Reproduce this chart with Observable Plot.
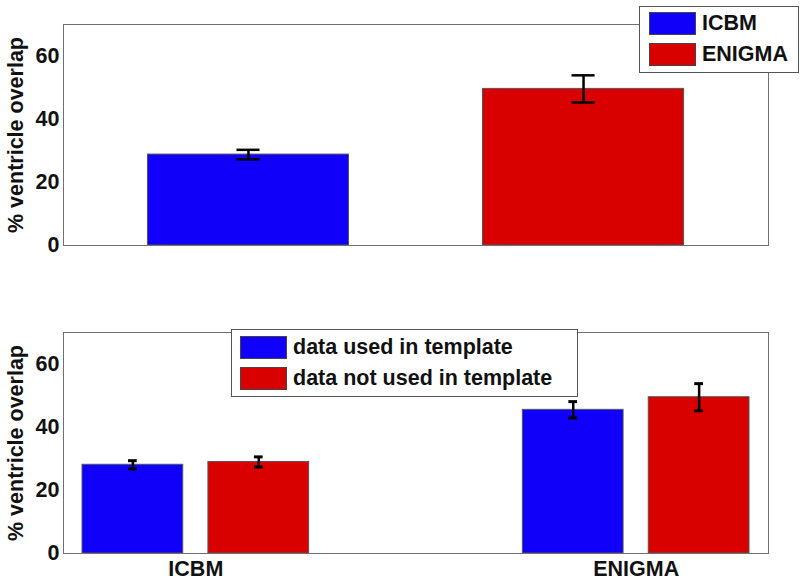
<!DOCTYPE html>
<html>
<head>
<meta charset="utf-8">
<script src="https://cdn.jsdelivr.net/npm/d3@7"></script>
<script src="https://cdn.jsdelivr.net/npm/@observablehq/plot@0.6"></script>
<style>
  html, body { margin: 0; padding: 0; background: #fff; }
  #wrap { position: relative; width: 800px; height: 581px; overflow: hidden; font-family: "Liberation Sans", Arial, sans-serif; font-weight: bold; color: #111; }
  #wrap svg { position: absolute; left: 0; }
  .legend { position: absolute; background: #fff; border: 1px solid #555; box-sizing: border-box; }
  .legend .row { display: flex; align-items: center; height: 23px; margin-bottom: 8px; }
  .legend .sw { width: 47px; height: 23px; box-sizing: border-box; border: 1px solid #444; margin-right: 6px; flex: none; }
  .legend .lab { font-size: 21.5px; white-space: nowrap; }
</style>
</head>
<body>
<div id="wrap"></div>
<script>
// ---- data ----
const topGroups = ["ICBM", "ENIGMA"];
const topMeans = [28.8, 49.6];
const topErr = [1.5, 4.3];

const bottomGroups = ["ICBM", "ENIGMA"];
const bottomSeries = ["data used in template", "data not used in template"];
const usedMeans = [28.1, 45.5];
const usedErr = [1.3, 2.6];
const notUsedMeans = [29.0, 49.5];
const notUsedErr = [1.6, 4.3];

const yTicks = [0, 20, 40, 60];
const yLabel = "% ventricle overlap";
const colors = ["#1000fa", "#d90000"];

// ---- tables ----
const topData = topGroups.map((g, i) => ({group: g, mean: topMeans[i], err: topErr[i]}));
const bottomData = bottomGroups.flatMap((g, i) => [
  {group: g, series: bottomSeries[0], mean: usedMeans[i], err: usedErr[i]},
  {group: g, series: bottomSeries[1], mean: notUsedMeans[i], err: notUsedErr[i]}
]);
const lo = d => d.mean - d.err;
const hi = d => d.mean + d.err;

const font = {fontFamily: "Liberation Sans, Arial, sans-serif", fontWeight: "bold", fontSize: "21.5px", color: "#111", background: "transparent", overflow: "visible"};
const frameColor = "#707070";

const wrap = document.getElementById("wrap");

// ---- top panel ----
const topChart = Plot.plot({
  width: 800, height: 260,
  marginTop: 24, marginBottom: 15, marginLeft: 63, marginRight: 32,
  style: font,
  x: {domain: topGroups, paddingInner: 0.4, paddingOuter: 0.252, round: false, axis: null},
  y: {domain: [0, 70], axis: null},
  color: {domain: topGroups, range: colors},
  marks: [
    Plot.barY(topData, {x: "group", y: "mean", fill: "group", stroke: "#555", strokeWidth: 1}),
    Plot.ruleX(topData, {x: "group", y1: lo, y2: hi, stroke: "#000", strokeWidth: 2.5}),
    Plot.tickY(topData, {x: "group", y: lo, insetLeft: 89, insetRight: 89, stroke: "#000", strokeWidth: 2.5}),
    Plot.tickY(topData, {x: "group", y: hi, insetLeft: 89, insetRight: 89, stroke: "#000", strokeWidth: 2.5}),
    Plot.axisY({ticks: yTicks, tickSize: 0, tickPadding: 4, label: yLabel, labelAnchor: "center", labelArrow: false, labelOffset: 56}),
    Plot.frame({stroke: frameColor})
  ]
});
topChart.style.top = "0px";
wrap.appendChild(topChart);

// ---- bottom panel ----
const bottomChart = Plot.plot({
  width: 800, height: 281,
  marginTop: 32, marginBottom: 28, marginLeft: 63, marginRight: 32,
  style: font,
  fx: {domain: bottomGroups, paddingInner: 0.399, paddingOuter: 0, round: false, label: null, axis: null},
  x: {domain: bottomSeries, paddingInner: 0.2, paddingOuter: 0.151, round: false, axis: null},
  y: {domain: [0, 70], axis: null},
  color: {domain: bottomSeries, range: colors},
  marks: [
    Plot.barY(bottomData, {fx: "group", x: "series", y: "mean", fill: "series", stroke: "#555", strokeWidth: 1}),
    Plot.ruleX(bottomData, {fx: "group", x: "series", y1: lo, y2: hi, stroke: "#000", strokeWidth: 2.5}),
    Plot.tickY(bottomData, {fx: "group", x: "series", y: lo, insetLeft: 46, insetRight: 46, stroke: "#000", strokeWidth: 3}),
    Plot.tickY(bottomData, {fx: "group", x: "series", y: hi, insetLeft: 46, insetRight: 46, stroke: "#000", strokeWidth: 3}),
    Plot.axisFx({anchor: "bottom", tickSize: 0, tickPadding: 7, label: null}),
    Plot.axisY({ticks: yTicks, tickSize: 0, tickPadding: 4, label: yLabel, labelAnchor: "center", labelArrow: false, labelOffset: 56}),
    Plot.frame({stroke: frameColor, facet: "super"})
  ]
});
bottomChart.style.top = "300px";
wrap.appendChild(bottomChart);

// ---- legends ----
function legend(labels, box, pad) {
  const div = document.createElement("div");
  div.className = "legend";
  Object.assign(div.style, {left: box.left + "px", top: box.top + "px", width: box.width + "px", height: box.height + "px", padding: pad});
  labels.forEach((l, i) => {
    const row = document.createElement("div");
    row.className = "row";
    const sw = document.createElement("div");
    sw.className = "sw";
    sw.style.background = colors[i];
    const t = document.createElement("span");
    t.className = "lab";
    t.textContent = l;
    row.appendChild(sw);
    row.appendChild(t);
    div.appendChild(row);
  });
  wrap.appendChild(div);
}
legend(topGroups, {left: 639, top: 6, width: 160, height: 67}, "5px 0 0 9px");
legend(bottomSeries, {left: 231, top: 329, width: 347, height: 68}, "6px 0 0 8px");
</script>
</body>
</html>
